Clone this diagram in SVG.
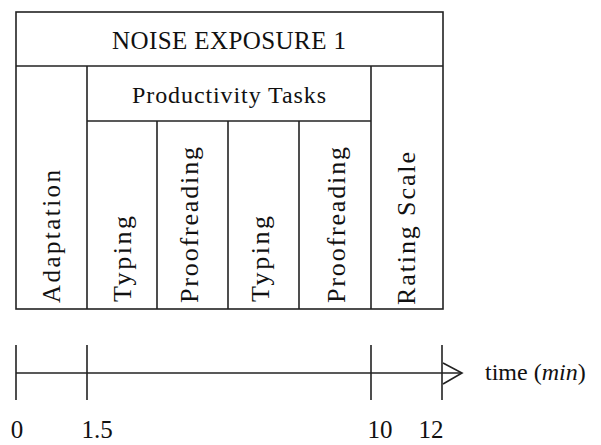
<svg xmlns="http://www.w3.org/2000/svg" width="601" height="445" viewBox="0 0 601 445">
<style>
.ln{stroke:#222;stroke-width:1.6;fill:none}
</style>
<rect width="601" height="445" fill="#fff"/>
<g font-family="Liberation Serif, serif" fill="#111">
<g id="noise-exposure">
<rect class="ln" x="16" y="12" width="427" height="297"/>
<line class="ln" x1="16" y1="66" x2="443" y2="66"/>
<text x="229" y="49" font-size="25" text-anchor="middle" textLength="234" lengthAdjust="spacing">NOISE EXPOSURE 1</text>
</g>
<g id="adaptation">
<line class="ln" x1="87" y1="66" x2="87" y2="309"/>
<text font-size="25" transform="translate(60,303) rotate(-90)" textLength="133" lengthAdjust="spacing">Adaptation</text>
</g>
<g id="productivity-tasks">
<line class="ln" x1="87" y1="121" x2="371" y2="121"/>
<text x="229" y="103" font-size="24" text-anchor="middle" textLength="194" lengthAdjust="spacing">Productivity Tasks</text>
</g>
<g id="typing-1">
<line class="ln" x1="157" y1="121" x2="157" y2="309"/>
<text font-size="26" transform="translate(131,302) rotate(-90)" textLength="86" lengthAdjust="spacing">Typing</text>
</g>
<g id="proofreading-1">
<line class="ln" x1="228" y1="121" x2="228" y2="309"/>
<text font-size="26" transform="translate(198,303) rotate(-90)" textLength="156" lengthAdjust="spacing">Proofreading</text>
</g>
<g id="typing-2">
<line class="ln" x1="299" y1="121" x2="299" y2="309"/>
<text font-size="26" transform="translate(269,302) rotate(-90)" textLength="86" lengthAdjust="spacing">Typing</text>
</g>
<g id="proofreading-2">
<text font-size="26" transform="translate(345,303) rotate(-90)" textLength="156" lengthAdjust="spacing">Proofreading</text>
</g>
<g id="rating-scale">
<line class="ln" x1="371" y1="66" x2="371" y2="309"/>
<text font-size="26" transform="translate(415,305) rotate(-90)" textLength="153" lengthAdjust="spacing">Rating Scale</text>
</g>
<g id="connectors">
<line class="ln" x1="16" y1="373" x2="461" y2="373"/>
<polyline class="ln" points="443,363 462,373 443,384"/>
<line class="ln" x1="16" y1="345" x2="16" y2="400"/>
<line class="ln" x1="87" y1="345" x2="87" y2="400"/>
<line class="ln" x1="371" y1="345" x2="371" y2="400"/>
<line class="ln" x1="442" y1="345" x2="442" y2="400"/>
</g>
<g id="axis-labels">
<text x="485" y="380" font-size="24">time (<tspan font-style="italic">min</tspan>)</text>
<text x="17" y="438" font-size="25" text-anchor="middle">0</text>
<text x="97" y="438" font-size="25" text-anchor="middle">1.5</text>
<text x="380" y="438" font-size="25" text-anchor="middle">10</text>
<text x="431" y="438" font-size="25" text-anchor="middle">12</text>
</g>
</g>
</svg>
